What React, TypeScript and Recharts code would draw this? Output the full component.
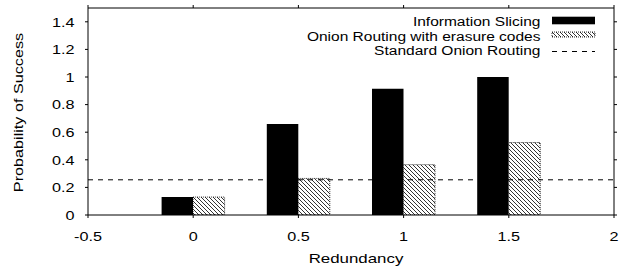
import React from 'react';
import { ComposedChart, Bar, XAxis, YAxis, ReferenceLine, Customized } from 'recharts';

const redundancy = [0, 0.5, 1, 1.5];
const infoSlicing = [0.13, 0.66, 0.915, 1.0];
const onionErasure = [0.13, 0.265, 0.365, 0.525];
const standardOnion = 0.255;
const xDomain = [-0.5, 2];
const yDomain = [0, 1.5];
const xTicks = [-0.5, 0, 0.5, 1, 1.5, 2];
const yTicks = [0, 0.2, 0.4, 0.6, 0.8, 1, 1.2, 1.4];
const seriesNames = ['Information Slicing', 'Onion Routing with erasure codes', 'Standard Onion Routing'];

const data = redundancy.map((r, i) => ({ r, slicing: infoSlicing[i], erasure: onionErasure[i] }));

const FONT = '"Liberation Sans", Arial, Helvetica, sans-serif';
const FS = 13.5;
const SX = 1.2;
const MARGIN = { top: 8, right: 6, bottom: 23, left: 28 };
const CW = 620;
const CH = 268;
const YAXIS_W = 60;
const XAXIS_H = 30;
const PL = MARGIN.left + YAXIS_W;
const PT = MARGIN.top;
const PW = CW - PL - MARGIN.right;
const PH = CH - PT - MARGIN.bottom - XAXIS_H;

const WideText = ({ x, y, anchor, children, sx = SX, rotate = 0 }: any) => (
  <text
    transform={`translate(${x},${y})${rotate ? ` rotate(${rotate})` : ''} scale(${sx},1)`}
    textAnchor={anchor}
    fontSize={FS}
    fontFamily={FONT}
    fill="#000"
  >
    {children}
  </text>
);

const XTick = (p: any) => (
  <WideText x={p.x} y={p.y + 23} anchor="middle">{String(p.payload.value)}</WideText>
);

const YTick = (p: any) => (
  <WideText x={p.x} y={p.y + 4.8} anchor="end">{String(p.payload.value)}</WideText>
);

const LegendBox = () => {
  const textRight = 540.5;
  const keyX = 552;
  const keyW = 43;
  const baselines = [25.7, 40.6, 55.3];
  return (
    <g>
      {seriesNames.map((n, i) => (
        <WideText key={n} x={textRight} y={baselines[i]} anchor="end" sx={1.15}>{n}</WideText>
      ))}
      <rect x={keyX} y={16.7} width={keyW} height={7.6} fill="#000" />
      <rect x={keyX} y={32} width={keyW} height={5} fill="url(#hatch)" stroke="#000" strokeWidth={0.8} strokeDasharray="1 1" />
      <line x1={keyX} x2={keyX + keyW} y1={51.5} y2={51.5} stroke="#000" strokeWidth={1} strokeDasharray="5 5" />
    </g>
  );
};

// Top/right frame with mirrored outward ticks (gnuplot-style), drawn as an overlay on the chart
const MirrorFrame = () => {
  const sx = (v: number) => PL + ((v - xDomain[0]) / (xDomain[1] - xDomain[0])) * PW;
  const sy = (v: number) => PT + PH - ((v - yDomain[0]) / (yDomain[1] - yDomain[0])) * PH;
  return (
    <svg
      width={CW}
      height={CH}
      style={{ position: 'absolute', left: 0, top: 0, pointerEvents: 'none', overflow: 'visible' }}
    >
      <g stroke="#000" strokeWidth={1} fill="none">
        <line x1={PL} x2={PL + PW} y1={PT} y2={PT} />
        <line x1={PL + PW} x2={PL + PW} y1={PT} y2={PT + PH} />
        {xTicks.map((t) => (
          <line key={`t${t}`} x1={sx(t)} x2={sx(t)} y1={PT} y2={PT - 3} />
        ))}
        {yTicks.map((t) => (
          <line key={`r${t}`} x1={PL + PW} x2={PL + PW + 3} y1={sy(t)} y2={sy(t)} />
        ))}
      </g>
    </svg>
  );
};

export default function App() {
  return (
    <div style={{ position: 'absolute', left: 0, top: 0, width: CW, height: CH, background: '#fff' }}>
      <ComposedChart width={CW} height={CH} data={data} margin={MARGIN} barGap={0} barSize={31.5}>
        <defs>
          <pattern id="hatch" patternUnits="userSpaceOnUse" width={4} height={4}>
            <rect width={4} height={4} fill="#fff" />
            <path d="M-1,-1 L5,5 M3,-1 L5,1 M-1,3 L1,5" stroke="#000" strokeWidth={0.8} />
          </pattern>
        </defs>
        <XAxis
          dataKey="r"
          type="number"
          domain={xDomain}
          ticks={xTicks}
          allowDataOverflow
          height={XAXIS_H}
          tickSize={3}
          tickMargin={0}
          stroke="#000"
          tick={XTick}
          label={{
            content: (p: any) => {
              const vb = p.viewBox || {};
              return (
                <WideText x={vb.x + vb.width / 2 + 5} y={vb.y + 48} anchor="middle" sx={1.25}>
                  Redundancy
                </WideText>
              );
            },
          }}
        />
        <YAxis
          type="number"
          domain={yDomain}
          ticks={yTicks}
          allowDataOverflow
          width={YAXIS_W}
          tickSize={3}
          tickMargin={10.5}
          stroke="#000"
          tick={YTick}
          label={{
            content: (p: any) => {
              const vb = p.viewBox || {};
              const cx = 22.7;
              const cy = vb.y + vb.height / 2 + 1;
              return (
                <WideText x={cx} y={cy} anchor="middle" rotate={-90}>
                  Probability of Success
                </WideText>
              );
            },
          }}
        />
        <Bar dataKey="slicing" name={seriesNames[0]} fill="#000" isAnimationActive={false} />
        <Bar dataKey="erasure" name={seriesNames[1]} fill="url(#hatch)" stroke="#000" strokeWidth={0.8} strokeDasharray="1 1" isAnimationActive={false} />
        <ReferenceLine y={standardOnion} stroke="#000" strokeWidth={1} strokeDasharray="5 5" />
        <Customized component={LegendBox} />
      </ComposedChart>
      <MirrorFrame />
    </div>
  );
}
